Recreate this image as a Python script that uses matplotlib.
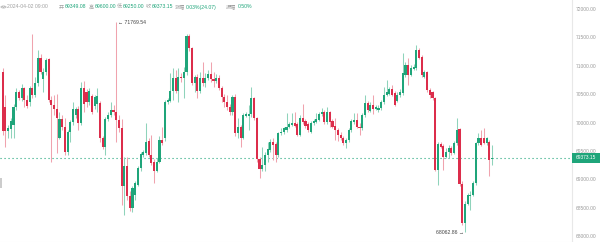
#!/usr/bin/env python3
"""Candlestick chart: BTC price, hourly candles up to 2024-04-02 09:00."""

import matplotlib

matplotlib.use("Agg")
import matplotlib.pyplot as plt
from matplotlib.lines import Line2D
from matplotlib.patches import Circle, Rectangle

plt.rcParams["font.family"] = ["Liberation Sans", "DejaVu Sans"]
CJK = ["Noto Sans CJK SC", "DejaVu Sans"]

GREEN = "#1fa57a"
RED = "#dc2d4b"
GREEN_WICK = "#8fd3bb"
RED_WICK = "#f0a3ae"

OPENS = [
    70897, 70281, 69852, 69888, 69958, 70281, 70533, 70427, 70603, 70398,
    70357, 70603, 70486, 70691, 71131, 70768, 70897, 71114, 70398, 70310,
    70240, 69735, 70064, 69929, 69477, 69829, 70005, 70134, 70240, 69987,
    70615, 70545, 70357, 70474, 70298, 70322, 70339, 69723, 69577, 70064,
    70134, 70222, 70193, 70046, 69899, 68873, 69242, 68697, 68491, 68726,
    68902, 69195, 69430, 69459, 69676, 69430, 69313, 69148, 69313, 69694,
    69723, 70357, 70380, 70556, 70791, 70556, 70809, 70779, 70885, 71530,
    71307, 70691, 70809, 70556, 70791, 70691, 70779, 70850, 70768, 70732,
    70791, 70603, 70457, 70357, 70281, 70181, 70457, 69811, 69929, 69735,
    70122, 70122, 70146, 70427, 70075, 69360, 69184, 69254, 69430, 69518,
    69665, 69618, 69430, 69811, 69829, 69870, 69929, 69958, 69987, 69970,
    69782, 70075, 70028, 69981, 69841, 69987, 70017, 70046, 70146, 70193,
    70005, 70181, 70028, 69946, 69870, 69782, 69735, 69635, 69694, 69870,
    70005, 70046, 69929, 69899, 70134, 70339, 70210, 70310, 70240, 70228,
    70251, 70357, 70486, 70509, 70592, 70515, 70380, 70486, 70515, 70838,
    71014, 70838, 70944, 70955, 71278, 71161, 70809, 70885, 70574, 70533,
    70427, 69166, 69618, 69594, 69401, 69477, 69559, 69459, 69635, 69882,
    68914, 68227, 68562, 68697, 68726, 68931, 69635, 69735, 69723, 69635,
    69665, 69349.08,
]
HIGHS = [
    70955, 70486, 69958, 70075, 70322, 70603, 70574, 70674, 70633, 70486,
    70650, 71554, 70809, 71278, 71202, 70955, 71143, 71143, 70474, 70486,
    70498, 70193, 70134, 70075, 69870, 70046, 70357, 70281, 70298, 70721,
    70732, 70592, 70603, 70509, 70486, 70603, 70380, 69770, 70105, 70181,
    70357, 70310, 71769.54, 70134, 70064, 69401, 69401, 68785, 68873, 68972,
    69225, 69477, 69518, 69987, 69723, 69782, 69360, 69371, 69770, 69929,
    70398, 70427, 70867, 70955, 70926, 70955, 70867, 70985, 71554, 71554,
    71337, 70838, 70850, 70885, 71073, 70867, 70926, 71073, 70897, 70850,
    70838, 70650, 70498, 70486, 70322, 70486, 70498, 70075, 69958, 70163,
    70193, 70310, 70633, 70457, 70105, 69401, 69577, 69489, 69665, 69712,
    69723, 69665, 69841, 69899, 69929, 70163, 70017, 70163, 70193, 70005,
    70134, 70322, 70064, 70017, 70028, 70064, 70163, 70181, 70251, 70216,
    70281, 70204, 70064, 70075, 69911, 69829, 69770, 69723, 69899, 70064,
    70163, 70163, 69987, 70163, 70486, 70380, 70357, 70486, 70310, 70310,
    70398, 70633, 70750, 70633, 70662, 70556, 70533, 70592, 71219, 71073,
    71131, 71014, 71026, 71366, 71307, 71190, 70926, 70908, 70603, 70556,
    70457, 69665, 69653, 69618, 69547, 69606, 69594, 69676, 70075, 69911,
    68961, 68609, 68755, 68785, 68972, 69665, 69811, 69870, 69899, 69753,
    69694, 69600.00,
]
LOWS = [
    69782, 69577, 69723, 69735, 69723, 70222, 70392, 70380, 70281, 70251,
    70298, 70439, 70457, 70650, 70850, 70533, 70838, 70357, 69313, 70134,
    69459, 69712, 69870, 69430, 69430, 69665, 69958, 70075, 69870, 69958,
    70193, 70281, 70310, 70146, 70240, 70181, 69665, 69536, 69430, 70028,
    70105, 70134, 69665, 69841, 68550, 68374, 68638, 68433, 68421, 68638,
    68873, 69148, 69401, 69430, 69401, 69254, 68931, 69125, 69283, 69606,
    69676, 70322, 70357, 70398, 70515, 70369, 70721, 70427, 70838, 71260,
    70662, 70533, 70427, 70515, 70650, 70633, 70750, 70721, 70633, 70691,
    70574, 70357, 70281, 70222, 70134, 70134, 69770, 69723, 69577, 69712,
    70105, 69870, 70105, 70046, 69313, 69031, 69148, 69137, 69313, 69489,
    69342, 69313, 69401, 69782, 69805, 69841, 69899, 69934, 69923, 69770,
    69758, 69981, 69911, 69841, 69817, 69958, 69993, 70028, 70122, 69981,
    69981, 69929, 69899, 69694, 69676, 69700, 69606, 69547, 69665, 69841,
    69981, 69899, 69782, 69870, 70105, 70193, 70181, 70157, 70216, 70193,
    70228, 70333, 70462, 70486, 70462, 70287, 70357, 70451, 70486, 70809,
    70662, 70815, 70920, 70932, 71120, 70803, 70779, 70545, 70427, 70404,
    69137, 68902, 69547, 69166, 69371, 69383, 69430, 69442, 69606, 68890,
    68198, 68062.86, 68538, 68462, 68697, 68902, 69606, 69583, 69618, 69606,
    69049, 69250.00,
]
CLOSES = [
    69852, 69852, 69899, 70028, 70281, 70533, 70427, 70603, 70398, 70298,
    70603, 70486, 70691, 71131, 70897, 70897, 71102, 70398, 70310, 70240,
    70075, 70064, 69929, 69477, 69829, 70005, 70240, 70240, 69987, 70615,
    70322, 70357, 70556, 70193, 70451, 70474, 69735, 69577, 70064, 70134,
    70222, 70181, 70046, 69899, 68873, 69242, 68697, 68491, 68843, 68931,
    69195, 69442, 69477, 69665, 69430, 69283, 69148, 69313, 69694, 69635,
    70369, 70398, 70556, 70791, 70556, 70809, 70779, 70885, 71530, 71307,
    70691, 70809, 70556, 70791, 70691, 70779, 70850, 70768, 70732, 70791,
    70603, 70457, 70357, 70281, 70181, 70457, 69811, 69929, 69735, 70134,
    70146, 70157, 70427, 70075, 69360, 69184, 69254, 69430, 69536, 69665,
    69606, 69430, 69811, 69841, 69899, 69929, 69970, 69987, 69946, 69782,
    70075, 70005, 69946, 69864, 69987, 70028, 70064, 70146, 70193, 70005,
    70181, 70017, 69929, 69870, 69782, 69723, 69635, 69694, 69870, 70028,
    70046, 69929, 69899, 70134, 70339, 70222, 70310, 70240, 70275, 70263,
    70357, 70486, 70545, 70592, 70486, 70310, 70486, 70545, 70867, 71014,
    70838, 70955, 70985, 71278, 71143, 70838, 70885, 70574, 70486, 70427,
    69166, 69618, 69577, 69401, 69489, 69559, 69459, 69635, 69870, 68914,
    68227, 68562, 68726, 68726, 68931, 69635, 69735, 69606, 69635, 69723,
    69345, 69373.15,
]

PRICE_TICKS = [68000, 68500, 69000, 69500, 70000, 70500, 71000, 71500, 72000]
LAST_PRICE = 69373.15
HIGH_LABEL = "71769.54"
LOW_LABEL = "68062.86"

# (text, x pixel, colour, is_cjk)
HEADER = [
    ("2024-04-02 09:00", 7, "#a0a0a0", False),
    ("开", 59, "#a0a0a0", True), ("69349.08", 65, GREEN, False),
    ("高", 89, "#a0a0a0", True), ("69600.00", 95, GREEN, False),
    ("低", 117, "#a0a0a0", True), ("69250.00", 123, GREEN, False),
    ("收", 146, "#a0a0a0", True), ("69373.15", 152, GREEN, False),
    ("涨幅", 175, "#a0a0a0", True), ("0.03%(24.07)", 186, GREEN, False),
    ("振幅", 226, "#a0a0a0", True), ("0.50%", 238, GREEN, False),
]

W, H = 600, 242


def px(x, y):
    return x / W, 1 - y / H


def main():
    fig = plt.figure(figsize=(W / 100, H / 100), dpi=100)
    ax = fig.add_axes([0, 0, 572 / W, 1])

    n = len(CLOSES)
    xs = list(range(n))
    up = [c >= o for o, c in zip(OPENS, CLOSES)]
    body_colors = [GREEN if u else RED for u in up]
    wick_colors = [GREEN_WICK if u else RED_WICK for u in up]

    ax.vlines(xs, LOWS, HIGHS, colors=wick_colors, linewidth=0.75, zorder=2)
    bottoms = [min(o, c) for o, c in zip(OPENS, CLOSES)]
    heights = [max(abs(c - o), 7) for o, c in zip(OPENS, CLOSES)]
    ax.bar(xs, heights, bottom=bottoms, width=0.78, color=body_colors,
           linewidth=0, zorder=3)

    ax.axhline(LAST_PRICE, color=GREEN, linewidth=0.8,
               linestyle=(0, (1, 2.6)), zorder=1)

    # extreme-price markers
    i_hi = HIGHS.index(max(HIGHS))
    i_lo = LOWS.index(min(LOWS))
    ax.text(i_hi + 0.5, max(HIGHS), "← " + HIGH_LABEL, fontsize=3.7,
            color="#444444", va="center", ha="left", zorder=4)
    ax.text(i_lo - 0.5, min(LOWS), LOW_LABEL + " →", fontsize=3.7,
            color="#444444", va="center", ha="right", zorder=4)

    ax.set_xlim(-1.0, 210.6)
    ax.set_ylim(67895, 72158)

    ax.yaxis.tick_right()
    ax.set_yticks(PRICE_TICKS)
    ax.set_yticklabels([f"{v:.2f}" for v in PRICE_TICKS])
    ax.tick_params(axis="y", length=0, pad=2.6, labelsize=3.5,
                   labelcolor="#9a9a9a")
    ax.set_xticks([])
    for side in ("top", "left"):
        ax.spines[side].set_visible(False)
    ax.spines["right"].set_color("#e8e8e8")
    ax.spines["right"].set_linewidth(0.8)
    ax.spines["bottom"].set_color("#eeeeee")
    ax.spines["bottom"].set_linewidth(0.8)

    # last price tag on the axis
    y_tag = 9 + (72000 - LAST_PRICE) / 500 * 28.35
    x0, y0 = px(572, y_tag + 5)
    fig.add_artist(Rectangle((x0, y0), 28 / W, 10 / H, transform=fig.transFigure,
                             facecolor=GREEN, edgecolor="none"))
    tx, ty = px(586, y_tag)
    fig.text(tx, ty, f"{LAST_PRICE:.2f}", fontsize=3.5, color="white",
             ha="center", va="center")

    # header line
    cx, cy = px(3.5, 7)
    fig.add_artist(Circle((cx, cy), 2.6 / W, transform=fig.transFigure,
                          facecolor="none", edgecolor="#b0b0b0", linewidth=0.5))
    fig.add_artist(Line2D([2.3 / W, 3.5 / W, 4.7 / W],
                          [1 - 6.4 / H, 1 - 7.6 / H, 1 - 6.4 / H],
                          transform=fig.transFigure, color="#b0b0b0",
                          linewidth=0.5))
    for text, x, color, is_cjk in HEADER:
        hx, hy = px(x, 7)
        kw = {"family": CJK} if is_cjk else {}
        fig.text(hx, hy, text, fontsize=3.7, color=color, ha="left",
                 va="center", **kw)

    # small handle at the left edge
    lx, ly = px(0, 188)
    fig.add_artist(Rectangle((lx, ly), 1.5 / W, 10 / H, transform=fig.transFigure,
                             facecolor="#cccccc", edgecolor="none"))

    fig.savefig("out.png", dpi=100)
    plt.close(fig)


if __name__ == "__main__":
    main()
